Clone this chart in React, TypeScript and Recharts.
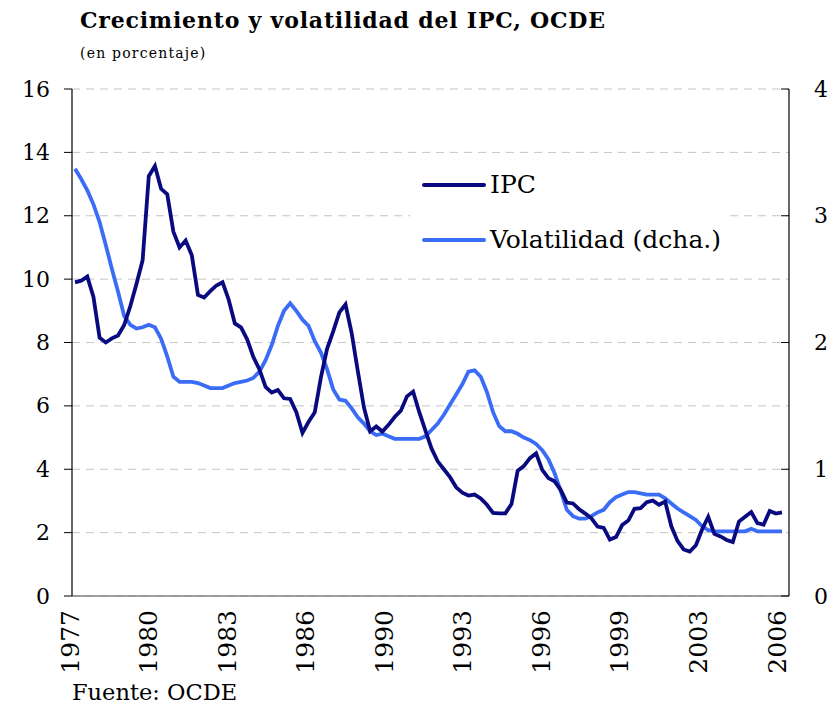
import React from 'react';
import { LineChart, Line, XAxis, YAxis, CartesianGrid } from 'recharts';

// quarterly observations, first quarter of 1977 to last quarter of 2005
const ipc = [
  9.9, 9.95, 10.08, 9.44, 8.15, 8.0, 8.13, 8.22, 8.55, 9.15,
  9.85, 10.6, 13.25, 13.57, 12.85, 12.68, 11.5, 11.0, 11.22, 10.75,
  9.5, 9.42, 9.62, 9.8, 9.9, 9.35, 8.6, 8.48, 8.1, 7.55,
  7.15, 6.6, 6.42, 6.5, 6.24, 6.22, 5.8, 5.15, 5.5, 5.8,
  6.9, 7.8, 8.35, 8.95, 9.2, 8.3, 7.1, 5.95, 5.2, 5.35,
  5.19, 5.4, 5.65, 5.85, 6.3, 6.45, 5.8, 5.22, 4.65, 4.25,
  4.0, 3.75, 3.43, 3.26, 3.17, 3.2, 3.08, 2.88, 2.62, 2.61,
  2.61, 2.9, 3.95, 4.1, 4.35, 4.5, 3.98, 3.72, 3.62, 3.35,
  2.95, 2.92, 2.74, 2.6, 2.45, 2.19, 2.15, 1.78, 1.86, 2.24,
  2.38, 2.75, 2.77, 2.96, 3.01, 2.88, 2.98, 2.2, 1.74, 1.47,
  1.4, 1.6, 2.1, 2.5, 1.96, 1.88, 1.77, 1.7, 2.35, 2.5,
  2.65, 2.3, 2.25, 2.68, 2.6, 2.64,
];

const volatilidad = [
  3.37, 3.29, 3.2, 3.09, 2.95, 2.77, 2.58, 2.4, 2.21, 2.14,
  2.11, 2.12, 2.14, 2.12, 2.03, 1.89, 1.73, 1.69, 1.69, 1.69,
  1.68, 1.66, 1.64, 1.64, 1.64, 1.66, 1.68, 1.69, 1.7, 1.72,
  1.77, 1.86, 1.98, 2.13, 2.25, 2.31, 2.25, 2.18, 2.13, 2.01,
  1.92, 1.79, 1.63, 1.55, 1.54, 1.48, 1.41, 1.36, 1.3, 1.27,
  1.28, 1.26, 1.24, 1.24, 1.24, 1.24, 1.24, 1.26, 1.31, 1.36,
  1.43, 1.51, 1.59, 1.67, 1.77, 1.78, 1.73, 1.61, 1.45, 1.34,
  1.3, 1.3, 1.28, 1.25, 1.23, 1.2, 1.15, 1.08, 0.97, 0.83,
  0.68, 0.63, 0.61, 0.61, 0.63, 0.66, 0.68, 0.74, 0.78, 0.8,
  0.82, 0.82, 0.81, 0.8, 0.8, 0.8, 0.77, 0.73, 0.69, 0.66,
  0.63, 0.6, 0.55, 0.52, 0.51, 0.51, 0.51, 0.51, 0.51, 0.51,
  0.53, 0.51, 0.51, 0.51, 0.51, 0.51,
];

const yearLabels = ['1977', '1980', '1983', '1986', '1990', '1993', '1996', '1999', '2003', '2006'];
const leftTicks = [0, 2, 4, 6, 8, 10, 12, 14, 16];
const rightTicks = [0, 1, 2, 3, 4];

const data = ipc.map((v, i) => ({ t: i, ipc: v, vol: volatilidad[i] }));

// labels sit evenly along the axis (category-style), not at their quarter
const labelStart = -0.8;
const labelStep = 115 / (yearLabels.length - 1);
const xTicks = yearLabels.map((_, i) => labelStart + i * labelStep);

const NAVY = '#0a0a80';
const BLUE = '#3a6cf6';
const FONT = '"DejaVu Serif", serif';

function YearTick({ x, y, index }: any) {
  return (
    <text
      transform={`translate(${x},${y + 6}) rotate(-90)`}
      textAnchor="end"
      dominantBaseline="central"
      fontFamily={FONT}
      fontSize={25}
      fill="#000"
    >
      {yearLabels[index]}
    </text>
  );
}

// tick marks point outward on the left, inward on the right
function LeftTick({ x, y, payload }: any) {
  return (
    <g>
      <line x1={x - 8} y1={y} x2={x} y2={y} stroke="#000" />
      <text x={x - 22} y={y} textAnchor="end" dominantBaseline="central" fontFamily={FONT} fontSize={22} fill="#000">
        {payload.value}
      </text>
    </g>
  );
}

function RightTick({ x, y, payload }: any) {
  return (
    <g>
      <line x1={x - 8} y1={y} x2={x} y2={y} stroke="#000" />
      <text x={x + 25} y={y} textAnchor="start" dominantBaseline="central" fontFamily={FONT} fontSize={22} fill="#000">
        {payload.value}
      </text>
    </g>
  );
}

function LegendBox() {
  const row = (color: string, label: string) => (
    <div style={{ display: 'flex', alignItems: 'center', height: 32 }}>
      <div style={{ width: 64, height: 4, background: color, borderRadius: 2 }} />
      <span style={{ marginLeft: 4, fontFamily: FONT, fontSize: 25, color: '#000', lineHeight: '32px' }}>{label}</span>
    </div>
  );
  return (
    <div style={{ position: 'absolute', left: 402, top: 161, background: '#fff', padding: '0 8px 0 12px' }}>
      {row(NAVY, 'IPC')}
      <div style={{ height: 23 }} />
      {row(BLUE, 'Volatilidad (dcha.)')}
    </div>
  );
}

export default function App() {
  return (
    <div style={{ position: 'relative', width: 820, height: 697, background: '#fff' }}>
      <div style={{ position: 'absolute', left: 72, top: 0, fontFamily: FONT, fontWeight: 'bold', fontSize: 22, lineHeight: '24px', letterSpacing: 0.8, color: '#000', whiteSpace: 'nowrap' }}>
        Crecimiento y volatilidad del IPC, OCDE
      </div>
      <div style={{ position: 'absolute', left: 72, top: 37, fontFamily: FONT, fontSize: 14, lineHeight: '16px', letterSpacing: 1.2, color: '#000', whiteSpace: 'nowrap' }}>
        (en porcentaje)
      </div>
      <div style={{ position: 'absolute', left: 0, top: 0 }}>
        <LineChart width={820} height={690} data={data} margin={{ top: 81, right: 0, bottom: 0, left: 0 }}>
          <CartesianGrid vertical={false} stroke="#c4c4c4" strokeDasharray="8 6" yAxisId="left" />
          <XAxis
            dataKey="t"
            type="number"
            domain={[-0.49, 116.14]}
            ticks={xTicks}
            interval={0}
            tick={<YearTick />}
            tickLine={false}
            axisLine={{ stroke: '#808080', strokeWidth: 1.5 }}
            height={102}
          />
          <YAxis
            yAxisId="left"
            domain={[0, 16]}
            ticks={leftTicks}
            interval={0}
            width={64}
            tickSize={0}
            tickMargin={0}
            tickLine={false}
            tick={<LeftTick />}
            axisLine={{ stroke: '#000', strokeWidth: 1.2 }}
          />
          <YAxis
            yAxisId="right"
            orientation="right"
            domain={[0, 4]}
            ticks={rightTicks}
            interval={0}
            width={39}
            tickSize={0}
            tickMargin={0}
            tickLine={false}
            tick={<RightTick />}
            axisLine={{ stroke: '#000', strokeWidth: 1.2 }}
          />
          <Line
            yAxisId="right"
            type="linear"
            dataKey="vol"
            stroke={BLUE}
            strokeWidth={3.8}
            dot={false}
            isAnimationActive={false}
          />
          <Line
            yAxisId="left"
            type="linear"
            dataKey="ipc"
            stroke={NAVY}
            strokeWidth={3.8}
            dot={false}
            isAnimationActive={false}
          />
        </LineChart>
      </div>
      <LegendBox />
      <div style={{ position: 'absolute', left: 64, top: 673, fontFamily: FONT, fontSize: 22.5, lineHeight: '22px', color: '#000', whiteSpace: 'nowrap' }}>
        Fuente: OCDE
      </div>
    </div>
  );
}
